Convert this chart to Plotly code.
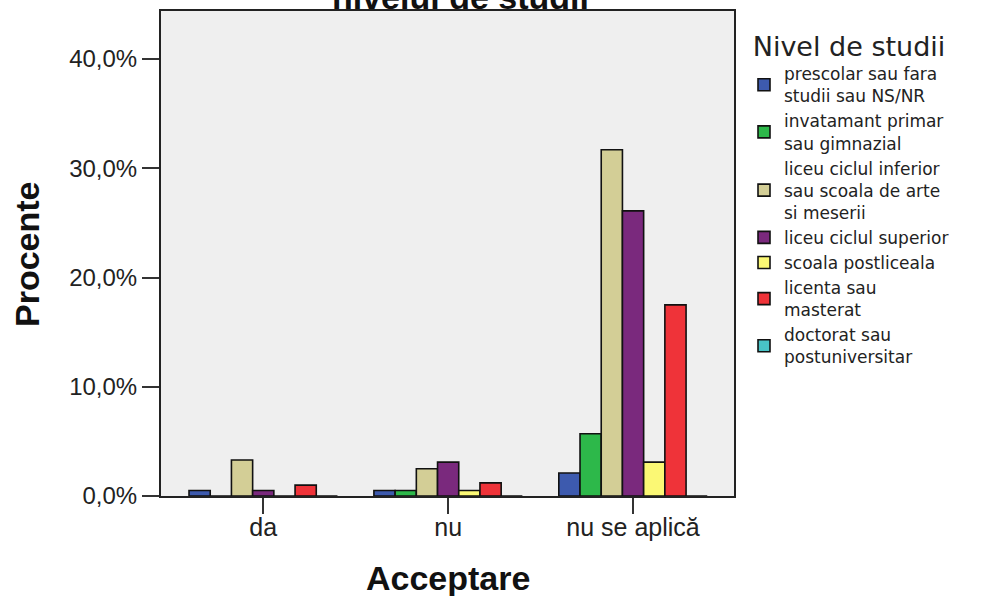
import plotly.graph_objects as go

categories = ["da", "nu", "nu se aplică"]

series_names = [
    "prescolar sau fara<br>studii sau NS/NR",
    "invatamant primar<br>sau gimnazial",
    "liceu ciclul inferior<br>sau scoala de arte<br>si meserii",
    "liceu ciclul superior",
    "scoala postliceala",
    "licenta sau<br>masterat",
    "doctorat sau<br>postuniversitar",
]

prescolar = [0.5, 0.5, 2.1]
primar = [0.0, 0.5, 5.7]
liceu_inferior = [3.3, 2.5, 31.7]
liceu_superior = [0.5, 3.1, 26.1]
postliceala = [0.0, 0.5, 3.1]
licenta = [1.0, 1.2, 17.5]
doctorat = [0.0, 0.0, 0.0]

series_values = [prescolar, primar, liceu_inferior, liceu_superior,
                 postliceala, licenta, doctorat]

colors = ["#3D5AAE", "#2DB84A", "#D3CE96", "#7A297D", "#FBF874", "#EF3339", "#48C3C6"]

y_tickvals = [0, 10, 20, 30, 40]
y_ticktext = ["0,0%", "10,0%", "20,0%", "30,0%", "40,0%"]

fig = go.Figure()
for name, vals, col in zip(series_names, series_values, colors):
    fig.add_trace(go.Bar(
        x=categories, y=vals, name=name,
        marker=dict(color=col, line=dict(color="#111111", width=1.6)),
    ))

W, H = 981, 596
L, R, T, B = 161, 247, 11, 100
PW, PH = W - L - R, H - T - B


def px_x(p):
    return (p - L) / PW


def px_y(p):
    return (H - B - p) / PH


fig.update_layout(
    width=W, height=H,
    margin=dict(l=L, r=R, t=T, b=B, pad=0, autoexpand=False),
    paper_bgcolor="white",
    plot_bgcolor="#EFEFEF",
    barmode="group",
    bargap=0.197,
    bargroupgap=0,
    font=dict(family="Liberation Sans, Arial, sans-serif", color="#222222"),
    legend=dict(
        x=px_x(744), xanchor="left",
        y=px_y(21), yanchor="top",
        font=dict(family="DejaVu Sans", size=17, color="#222222"),
        title=dict(text="Nivel de studii", side="top center",
                   font=dict(family="DejaVu Sans", size=27, color="#222222")),
        bgcolor="rgba(0,0,0,0)",
        traceorder="normal",
    ),
    xaxis=dict(
        range=[-0.553, 2.546],
        automargin=False,
        showline=True, linecolor="#222222", linewidth=2, mirror=True,
        ticks="outside", ticklen=16, tickwidth=2, tickcolor="#333333",
        tickfont=dict(size=25, color="#222222"),
        ticklabelstandoff=-8,
        showgrid=False, zeroline=False,
    ),
    yaxis=dict(
        range=[0, 44.4],
        automargin=False,
        tickvals=y_tickvals, ticktext=y_ticktext,
        showline=True, linecolor="#222222", linewidth=2, mirror=True,
        ticks="outside", ticklen=17, tickwidth=2, tickcolor="#333333",
        tickfont=dict(size=24, color="#222222"),
        showgrid=False, zeroline=False,
    ),
)

# axis titles
fig.add_annotation(
    text="<b>Acceptare</b>", xref="paper", yref="paper",
    x=px_x(448), xanchor="center", y=px_y(578), yanchor="middle",
    showarrow=False, font=dict(size=34, color="#111111"),
)
fig.add_annotation(
    text="<b>Procente</b>", xref="paper", yref="paper",
    x=px_x(27), xanchor="center", y=px_y(254), yanchor="middle",
    textangle=-90, showarrow=False, font=dict(size=34, color="#111111"),
)

# chart title (mostly cut off at the top edge, as in the reference)
fig.add_annotation(
    text="<b>nivelul de studii</b>",
    xref="paper", yref="paper",
    x=px_x(460), xanchor="center",
    y=px_y(-3), yanchor="middle",
    showarrow=False,
    font=dict(size=34, color="#111111"),
)

fig.write_html("out.html", config={"displayModeBar": False},
               post_script="document.body.style.margin='0';")
